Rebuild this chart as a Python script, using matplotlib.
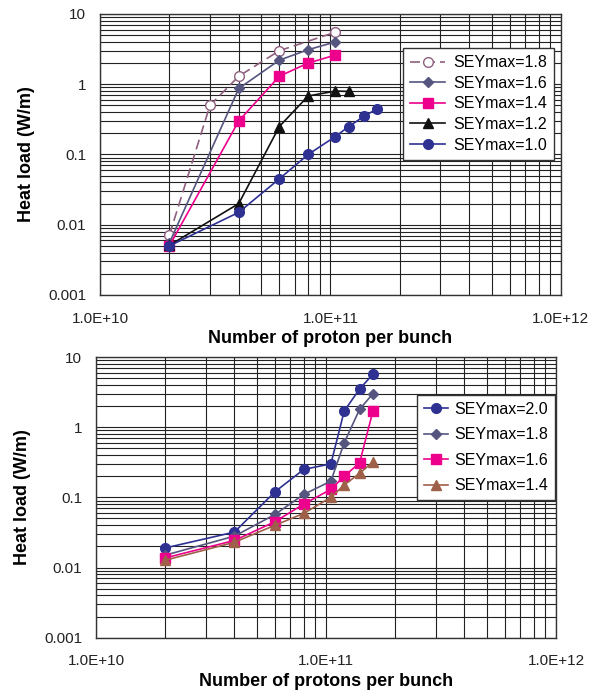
import matplotlib.pyplot as plt
from matplotlib.ticker import LogLocator, FixedLocator, NullFormatter

plt.rcParams['font.family'] = ['Liberation Sans', 'DejaVu Sans']

# top chart data
sey18_x = [2e10, 3e10, 4e10, 6e10, 1.05e11]
sey18_y = [0.0071, 0.5, 1.3, 3.0, 5.5]
sey16_x = [2e10, 4e10, 6e10, 8e10, 1.05e11]
sey16_y = [0.0055, 0.87, 2.2, 3.1, 4.0]
sey14_x = [2e10, 4e10, 6e10, 8e10, 1.05e11]
sey14_y = [0.005, 0.3, 1.3, 2.0, 2.6]
sey12_x = [2e10, 4e10, 6e10, 8e10, 1.05e11, 1.2e11]
sey12_y = [0.0051, 0.02, 0.25, 0.68, 0.8, 0.79]
sey10_x = [2e10, 4e10, 6e10, 8e10, 1.05e11, 1.2e11, 1.4e11, 1.6e11]
sey10_y = [0.005, 0.015, 0.045, 0.1, 0.18, 0.25, 0.35, 0.45]

# bottom chart data
x_bot = [2e10, 4e10, 6e10, 8e10, 1.05e11, 1.2e11, 1.4e11, 1.6e11]
b_sey20 = [0.019, 0.032, 0.12, 0.25, 0.30, 1.7, 3.5, 5.7]
b_sey18 = [0.015, 0.028, 0.057, 0.11, 0.17, 0.6, 1.8, 3.0]
b_sey16 = [0.0137, 0.0243, 0.045, 0.08, 0.13, 0.2, 0.31, 1.7]
b_sey14 = [0.0127, 0.0229, 0.04, 0.059, 0.1, 0.15, 0.22, 0.32]

xticks = [1e10, 1e11, 1e12]
xtick_labels = ['1.0E+10', '1.0E+11', '1.0E+12']
yticks = [0.001, 0.01, 0.1, 1, 10]
ytick_labels = ['0.001', '0.01', '0.1', '1', '10']

BLUE = '#2E3192'
SLATE = '#55557F'
PINK = '#EC008C'
MAUVE = '#8E5F7E'
BROWN = '#9E6049'

fig = plt.figure(figsize=(5.98, 6.92), dpi=100)
ax1 = fig.add_axes([0.1672, 0.5737, 0.7708, 0.4061])
ax2 = fig.add_axes([0.1605, 0.0785, 0.7693, 0.4056])


def style_axis(ax, xlabel):
    ax.set_xscale('log')
    ax.set_yscale('log')
    ax.set_xlim(1e10, 1e12)
    ax.set_ylim(0.001, 10)
    ax.xaxis.set_major_locator(FixedLocator(xticks))
    ax.set_xticklabels(xtick_labels)
    ax.yaxis.set_major_locator(FixedLocator(yticks))
    ax.set_yticklabels(ytick_labels)
    ax.xaxis.set_minor_locator(LogLocator(base=10, subs=range(2, 10)))
    ax.yaxis.set_minor_locator(LogLocator(base=10, subs=range(2, 10)))
    ax.xaxis.set_minor_formatter(NullFormatter())
    ax.yaxis.set_minor_formatter(NullFormatter())
    ax.grid(True, which='both', color='#222222', lw=0.8)
    ax.set_axisbelow(True)
    ax.tick_params(which='both', length=0, labelsize=11, colors='#222222', pad=10)
    ax.tick_params(axis='x', pad=12)
    for s in ax.spines.values():
        s.set_color('#333333')
        s.set_linewidth(1.0)
    ax.set_xlabel(xlabel, fontsize=13, fontweight='bold', labelpad=3)
    ax.set_ylabel('Heat load (W/m)', fontsize=13, fontweight='bold', labelpad=9)


style_axis(ax1, 'Number of proton per bunch')
ax1.plot(sey18_x, sey18_y, color=MAUVE, ls=(0, (6, 3)), lw=1.2, marker='o', ms=7,
         mfc='white', mec=MAUVE, label='SEYmax=1.8')
ax1.plot(sey16_x, sey16_y, color=SLATE, lw=1.2, marker='D', ms=5, label='SEYmax=1.6')
ax1.plot(sey14_x, sey14_y, color=PINK, lw=1.2, marker='s', ms=7, label='SEYmax=1.4')
ax1.plot(sey12_x, sey12_y, color='#111111', lw=1.2, marker='^', ms=7, label='SEYmax=1.2')
ax1.plot(sey10_x, sey10_y, color=BLUE, lw=1.2, marker='o', ms=7, label='SEYmax=1.0')
leg1 = ax1.legend(loc='upper left', bbox_to_anchor=(0.657, 0.879), fontsize=11.5,
                  frameon=True, fancybox=False, edgecolor='#333333', framealpha=1,
                  handlelength=2.2, labelspacing=0.35, borderpad=0.45, handletextpad=0.5,
                  borderaxespad=0)
leg1.get_frame().set_linewidth(1.0)

style_axis(ax2, 'Number of protons per bunch')
ax2.plot(x_bot, b_sey20, color=BLUE, lw=1.2, marker='o', ms=7, label='SEYmax=2.0')
ax2.plot(x_bot, b_sey18, color=SLATE, lw=1.2, marker='D', ms=5, label='SEYmax=1.8')
ax2.plot(x_bot, b_sey16, color=PINK, lw=1.2, marker='s', ms=7, label='SEYmax=1.6')
ax2.plot(x_bot, b_sey14, color=BROWN, lw=1.2, marker='^', ms=7, label='SEYmax=1.4')
leg2 = ax2.legend(loc='upper left', bbox_to_anchor=(0.697, 0.865), fontsize=11.5,
                  frameon=True, fancybox=False, edgecolor='#333333', framealpha=1,
                  handlelength=1.5, labelspacing=0.65, borderpad=0.45, handletextpad=0.4,
                  borderaxespad=0)
leg2.get_frame().set_linewidth(1.0)

fig.savefig('out.png', dpi=100)
